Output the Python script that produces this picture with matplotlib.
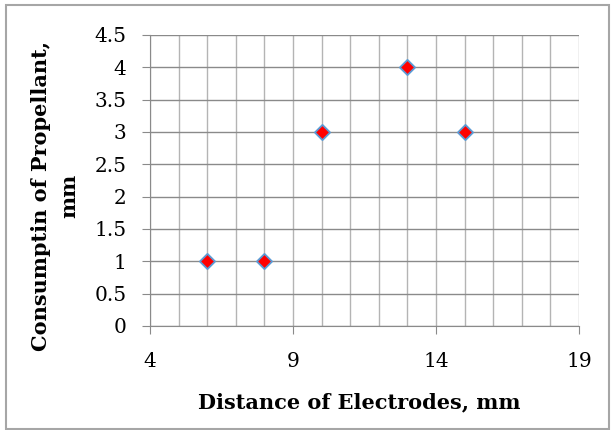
import matplotlib.pyplot as plt
from matplotlib.patches import Rectangle
from matplotlib.ticker import FixedLocator, MultipleLocator

distance = [6, 8, 10, 13, 15]
consumption = [1, 1, 3, 4, 3]
x_ticks = [4, 9, 14, 19]
y_ticks = [0, 0.5, 1, 1.5, 2, 2.5, 3, 3.5, 4, 4.5]
y_labels = ['0', '0.5', '1', '1.5', '2', '2.5', '3', '3.5', '4', '4.5']

plt.rcParams['font.family'] = 'DejaVu Serif'

fig = plt.figure(figsize=(6.12, 4.30), dpi=100)
ax = fig.add_axes([0.245, 0.242, 0.701, 0.677])

ax.scatter(distance, consumption, marker='D', s=60, color='#ff0000',
           edgecolors='#5b9bd5', linewidths=1.3, zorder=3, clip_on=False)

ax.set_xlim(4, 19)
ax.set_ylim(0, 4.5)
ax.xaxis.set_major_locator(FixedLocator(x_ticks))
ax.xaxis.set_minor_locator(MultipleLocator(1))
ax.set_yticks(y_ticks)
ax.set_yticklabels(y_labels)

# horizontal lines darker, vertical lines lighter
ax.grid(which='major', axis='y', color='#8a8a8a', linewidth=1.0)
ax.grid(which='both', axis='x', color='#b4b4b4', linewidth=1.0)
ax.set_axisbelow(True)
for side in ['top', 'right']:
    ax.spines[side].set_visible(False)
for side in ['left', 'bottom']:
    ax.spines[side].set_color('#8a8a8a')
ax.tick_params(which='major', length=6, color='#8a8a8a', labelsize=14.5)
ax.tick_params(axis='x', pad=13)
ax.tick_params(axis='y', pad=11)
ax.tick_params(which='minor', length=0)

fig.text(359 / 612, 1 - 402 / 430, 'Distance of Electrodes, mm', fontsize=15,
         fontweight='bold', ha='center', va='center')
fig.text(55 / 612, 1 - 196 / 430, 'Consumptin of Propellant,\nmm', fontsize=15,
         fontweight='bold', ha='center', va='center', rotation=90,
         multialignment='center', linespacing=1.55)

fig.patches.append(Rectangle((6 / 612, 1 / 430), 603 / 612, 424 / 430,
                             transform=fig.transFigure, fill=False,
                             edgecolor='#a6a6a6', linewidth=1.5))

fig.savefig('out.png', dpi=100)
